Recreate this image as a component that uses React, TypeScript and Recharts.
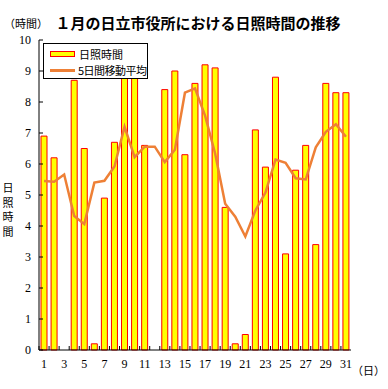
import React from 'react'
import { ComposedChart, Bar, Line, XAxis, YAxis } from 'recharts'

// days of the month (categories)
const days = [
  '1', '2', '3', '4', '5', '6', '7', '8', '9', '10',
  '11', '12', '13', '14', '15', '16', '17', '18', '19', '20',
  '21', '22', '23', '24', '25', '26', '27', '28', '29', '30', '31',
]

// daily sunshine hours
const sunshine = [
  6.9, 6.2, 0, 8.7, 6.5, 0.2, 4.9, 6.7, 9.0, 8.8,
  6.6, 0, 8.4, 9.0, 6.3, 8.6, 9.2, 9.1, 4.6, 0.2,
  0.5, 7.1, 5.9, 8.8, 3.1, 5.8, 6.6, 3.4, 8.6, 8.3, 8.3,
]

// 5-day moving average
const movingAvg = [
  5.45, 5.43, 5.66, 4.32, 4.06, 5.4, 5.46, 5.92, 7.2, 6.22,
  6.56, 6.56, 6.06, 6.46, 8.3, 8.44, 7.56, 6.34, 4.72, 4.3,
  3.66, 4.5, 5.08, 6.14, 6.04, 5.54, 5.5, 6.54, 7.04, 7.28, 6.88,
]

const yTicks = [0, 1, 2, 3, 4, 5, 6, 7, 8, 9, 10]

const barName = '日照時間'
const lineName = '5日間移動平均'

const colors = {
  barFill: '#FFFF00',
  barStroke: '#FF0000',
  line: '#EE8036',
  axis: '#000000',
  frame: '#808080',
  text: '#000000',
}

const jpFont = '"Noto Sans CJK JP", "Noto Sans", sans-serif'
const numFont = '"Liberation Serif", "DejaVu Serif", serif'

const data = days.map((d, i) => ({ day: d, hours: sunshine[i], avg: movingAvg[i] }))

function YTick({ x, y, payload }: any) {
  return (
    <g>
      <line x1={x} x2={x + 4} y1={y} y2={y} stroke={colors.axis} />
      <text x={x - 8} y={y} textAnchor="end" dominantBaseline="central"
        fontFamily={numFont} fontSize={12} fill={colors.text}>
        {payload.value}
      </text>
    </g>
  )
}

function XTick({ x, y, payload }: any) {
  const half = payload.offset || 5
  const n = Number(payload.value)
  return (
    <g>
      <line x1={x - half} x2={x - half} y1={y} y2={y - 4} stroke={colors.axis} />
      {n % 2 === 1 && (
        <text x={x} y={y + 14} textAnchor="middle" dominantBaseline="central"
          fontFamily={numFont} fontSize={12} fill={colors.text}>
          {payload.value}
        </text>
      )}
    </g>
  )
}

function LegendBox() {
  return (
    <div style={{
      position: 'absolute', left: 43, top: 43, width: 103, height: 34,
      border: '1px solid #000', background: '#fff', whiteSpace: 'nowrap',
      fontFamily: jpFont, fontSize: 11, lineHeight: '14px', color: colors.text,
    }}>
      <div style={{ display: 'flex', alignItems: 'center', height: 17, marginTop: 1 }}>
        <span style={{
          display: 'inline-block', width: 23, height: 4, marginLeft: 6, marginRight: 4,
          background: colors.barFill, border: `1px solid ${colors.barStroke}`,
        }} />
        <span>{barName}</span>
      </div>
      <div style={{ display: 'flex', alignItems: 'center', height: 16 }}>
        <span style={{
          display: 'inline-block', width: 25, height: 3, marginLeft: 6, marginRight: 3,
          background: colors.line,
        }} />
        <span style={{ letterSpacing: -0.5 }}>{lineName}</span>
      </div>
    </div>
  )
}

export default function App() {
  return (
    <div style={{ position: 'absolute', left: 0, top: 0, width: 388, height: 389, background: '#fff' }}>
      <ComposedChart width={388} height={389} data={data}
        margin={{ top: 40, right: 37, bottom: 0, left: 0 }}
        style={{ position: 'absolute', left: 0, top: 0 }}>
        <XAxis dataKey="day" interval={0} tick={<XTick />} tickSize={0} tickMargin={0}
          tickLine={false} axisLine={{ stroke: colors.axis }} height={39} />
        <XAxis xAxisId="top" dataKey="day" orientation="top" tick={false} tickLine={false}
          axisLine={{ stroke: colors.frame }} height={0} />
        <YAxis domain={[0, 10]} ticks={yTicks} interval={0} tick={<YTick />} tickSize={0}
          tickMargin={0} tickLine={false} axisLine={{ stroke: colors.axis }} width={39} />
        <YAxis yAxisId="right" orientation="right" domain={[0, 10]} tick={false} tickLine={false}
          axisLine={{ stroke: colors.frame }} width={0} />
        <Bar dataKey="hours" name={barName} fill={colors.barFill} stroke={colors.barStroke}
          strokeWidth={1} barSize={6} isAnimationActive={false} />
        <Line dataKey="avg" name={lineName} type="linear" stroke={colors.line} strokeWidth={2.5}
          dot={false} activeDot={false} isAnimationActive={false} />
      </ComposedChart>

      <div style={{
        position: 'absolute', left: 4, top: 15, fontFamily: jpFont, fontSize: 11,
      }}>（時間）</div>
      <div style={{
        position: 'absolute', left: 0, width: 396, top: 12, textAlign: 'center',
        fontFamily: jpFont, fontSize: 15, fontWeight: 700,
      }}>１月の日立市役所における日照時間の推移</div>
      <div style={{
        position: 'absolute', left: 2, top: 180, width: 12, fontFamily: jpFont,
        fontSize: 11, textAlign: 'center',
      }}>
        {'日照時間'.split('').map((c, i) => (
          <div key={i} style={{ height: 14.5, lineHeight: '14.5px' }}>{c}</div>
        ))}
      </div>
      <div style={{
        position: 'absolute', left: 352, top: 362, fontFamily: jpFont, fontSize: 11,
      }}>（日）</div>
      <LegendBox />
    </div>
  )
}
